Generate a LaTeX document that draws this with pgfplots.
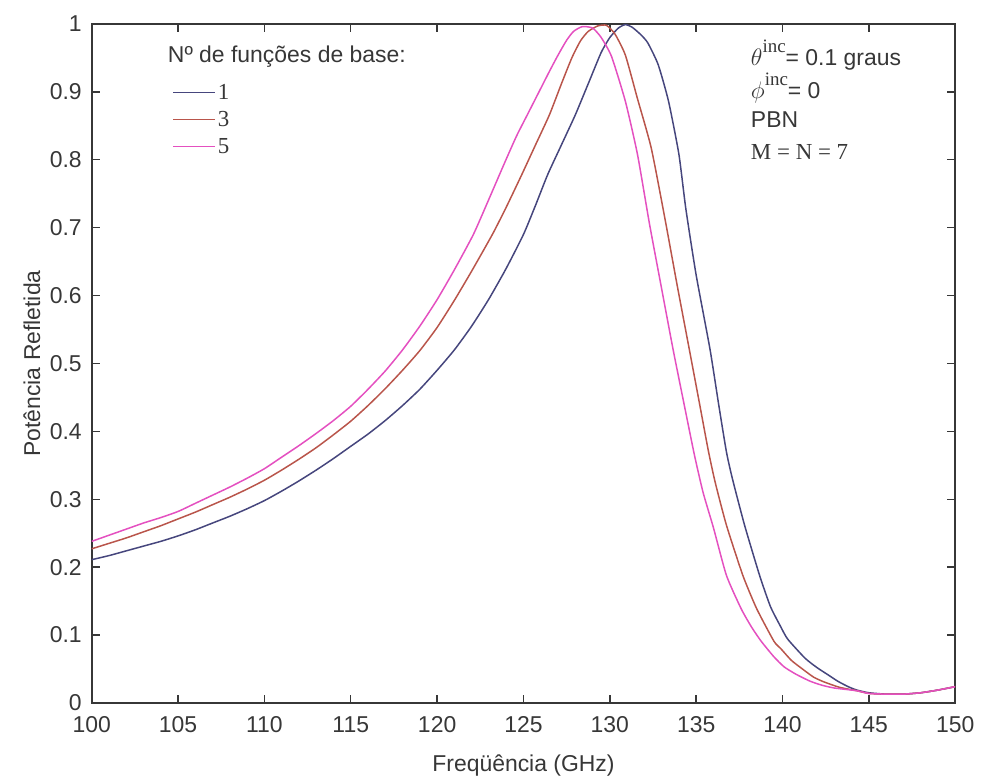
\documentclass[border=0pt]{standalone}
\usepackage{fontspec}
\setmainfont{Liberation Sans}
\newfontfamily\serif{Liberation Serif}
\usepackage{pgfplots}
\pgfplotsset{compat=1.18}
\definecolor{c1}{RGB}{70,70,125}
\definecolor{c3}{RGB}{185,85,75}
\definecolor{c5}{RGB}{228,80,192}
\definecolor{ink}{RGB}{55,55,55}
\newcommand{\fs}{\fontsize{11.5}{13}\selectfont}
\begin{document}
\begin{tikzpicture}
\begin{axis}[
  scale only axis, width=433pt, height=340.5pt,
  at={(0,0)}, anchor=south west,
  xmin=100, xmax=150, ymin=0, ymax=1,
  xtick={100,105,110,115,120,125,130,135,140,145,150},
  ytick={0,0.1,0.2,0.3,0.4,0.5,0.6,0.7,0.8,0.9,1},
  yticklabels={0,0.1,0.2,0.3,0.4,0.5,0.6,0.7,0.8,0.9,1},
  /pgf/number format/assume math mode=true,
  tick align=inside, major tick length=4pt,
  tick style={ink, line width=0.7pt},
  axis line style={ink, line width=0.9pt},
  tick label style={font=\fs, color=ink},
  xticklabel style={yshift=-3.5pt},
  yticklabel style={xshift=-1.5pt},
  label style={font=\fs, color=ink},
  xlabel={Freqüência (GHz)},
  ylabel={Potência Refletida},
  x label style={at={(axis description cs:0.5,-0.0925)}, anchor=center},
  y label style={at={(axis description cs:-0.0693,0.5)}, anchor=center},
  legend style={at={(axis description cs:0.093,0.859)}, anchor=west,
    draw=none, fill=none, font=\fontsize{11.5}{13}\selectfont\serif, text=ink,
    inner sep=0pt, row sep=3pt,
    nodes={inner sep=1pt, text height=7.5pt, text depth=1pt}},
  legend cell align=left,
  legend image code/.code={\draw[#1] (0pt,0pt) -- (21pt,0pt);},
  every axis plot/.append style={smooth, tension=0.35, line width=0.75pt},
]
\addplot[c1] coordinates {
(100,0.211)(101,0.217)(102,0.224)(103,0.231)(104,0.238)(105,0.246)(106,0.255)(107,0.265)(108,0.275)(109,0.286)(110,0.298)(111,0.312)(112,0.327)(113,0.343)(114,0.360)(115,0.378)(116,0.396)(117,0.416)(118,0.438)(119,0.462)(120,0.490)(121,0.520)(122,0.555)(123,0.595)(124,0.640)(125,0.690)(125.7,0.733)(126.4,0.778)(127.2,0.822)(128,0.866)(128.8,0.915)(129.5,0.958)(130,0.980)(130.5,0.994)(130.9,0.999)(131.3,0.995)(131.8,0.984)(132.2,0.972)(132.8,0.940)(133.4,0.886)(134.0,0.808)(134.4,0.728)(135.0,0.630)(135.8,0.521)(136.3,0.44)(136.75,0.37)(137.1,0.33)(137.8,0.262)(138.67,0.188)(139.3,0.142)(139.9,0.112)(140.3,0.094)(141.3,0.066)(142.0,0.052)(142.6,0.042)(143.2,0.032)(143.8,0.024)(144.3,0.019)(145,0.015)(146,0.013)(147,0.013)(148,0.015)(149,0.019)(150,0.024)
};
\addlegendentry{1}
\addplot[c3] coordinates {
(100,0.227)(101,0.235)(102,0.243)(103,0.252)(104,0.261)(105,0.271)(106,0.281)(107,0.292)(108,0.303)(109,0.315)(110,0.328)(111,0.343)(112,0.359)(113,0.376)(114,0.395)(115,0.415)(116,0.438)(117,0.463)(118,0.490)(119,0.519)(120,0.553)(121,0.593)(122,0.636)(123.2,0.690)(124,0.730)(124.9,0.778)(125.7,0.822)(126.5,0.866)(127.2,0.912)(127.8,0.950)(128.3,0.975)(128.75,0.989)(129.3,0.997)(129.8,0.998)(130.3,0.985)(130.9,0.954)(131.6,0.890)(132.4,0.817)(133.2,0.712)(133.9,0.615)(134.6,0.521)(135.2,0.44)(135.7,0.372)(136.1,0.325)(136.75,0.262)(137.7,0.188)(138.5,0.139)(139.5,0.091)(139.9,0.080)(140.5,0.063)(141.1,0.051)(141.8,0.038)(142.4,0.031)(143.3,0.023)(144.3,0.018)(145,0.014)(146,0.013)(147,0.013)(148,0.015)(149,0.019)(150,0.024)
};
\addlegendentry{3}
\addplot[c5] coordinates {
(100,0.238)(101,0.247)(102,0.256)(103,0.265)(104,0.273)(105,0.282)(106,0.294)(107,0.306)(108,0.318)(109,0.331)(110,0.345)(111,0.362)(112,0.379)(113,0.397)(114,0.416)(115,0.437)(116,0.462)(117,0.489)(118,0.520)(119,0.555)(120,0.594)(121,0.638)(122.1,0.690)(123,0.742)(123.9,0.795)(124.6,0.835)(125.3,0.870)(125.9,0.900)(126.5,0.930)(127,0.954)(127.5,0.976)(127.9,0.989)(128.4,0.996)(129.0,0.994)(129.5,0.980)(130.1,0.952)(130.9,0.886)(131.6,0.808)(132.3,0.705)(133,0.61)(133.66,0.521)(134.3,0.44)(134.9,0.365)(135.4,0.31)(136.0,0.258)(136.75,0.188)(137.6,0.139)(138.2,0.112)(138.76,0.091)(139.5,0.068)(140.1,0.053)(140.8,0.042)(141.6,0.032)(142.3,0.026)(143.0,0.022)(144.3,0.018)(145,0.014)(146,0.013)(147,0.013)(148,0.015)(149,0.019)(150,0.024)
};
\addlegendentry{5}
\node[anchor=west, font=\fs, text=ink, inner sep=0pt] at (axis description cs:0.0878,0.952) {Nº de funções de base:};
\node[anchor=west, font=\fs, text=ink, inner sep=0pt] at (axis description cs:0.763,0.9545) {$\theta$\raisebox{1.1ex}{\fontsize{9.5}{10}\selectfont\serif inc}= 0.1 graus};
\node[anchor=west, font=\fs, text=ink, inner sep=0pt] at (axis description cs:0.763,0.906) {$\phi$\raisebox{1.1ex}{\fontsize{9.5}{10}\selectfont\serif inc}= 0};
\node[anchor=west, font=\fs, text=ink, inner sep=0pt] at (axis description cs:0.763,0.859) {PBN};
\node[anchor=west, font=\fs\serif, text=ink, inner sep=0pt] at (axis description cs:0.763,0.811) {M = N = 7};
\end{axis}
\path[use as bounding box] (-46pt,-38.5pt) rectangle (444.5pt,352.5pt);
\end{tikzpicture}
\end{document}
